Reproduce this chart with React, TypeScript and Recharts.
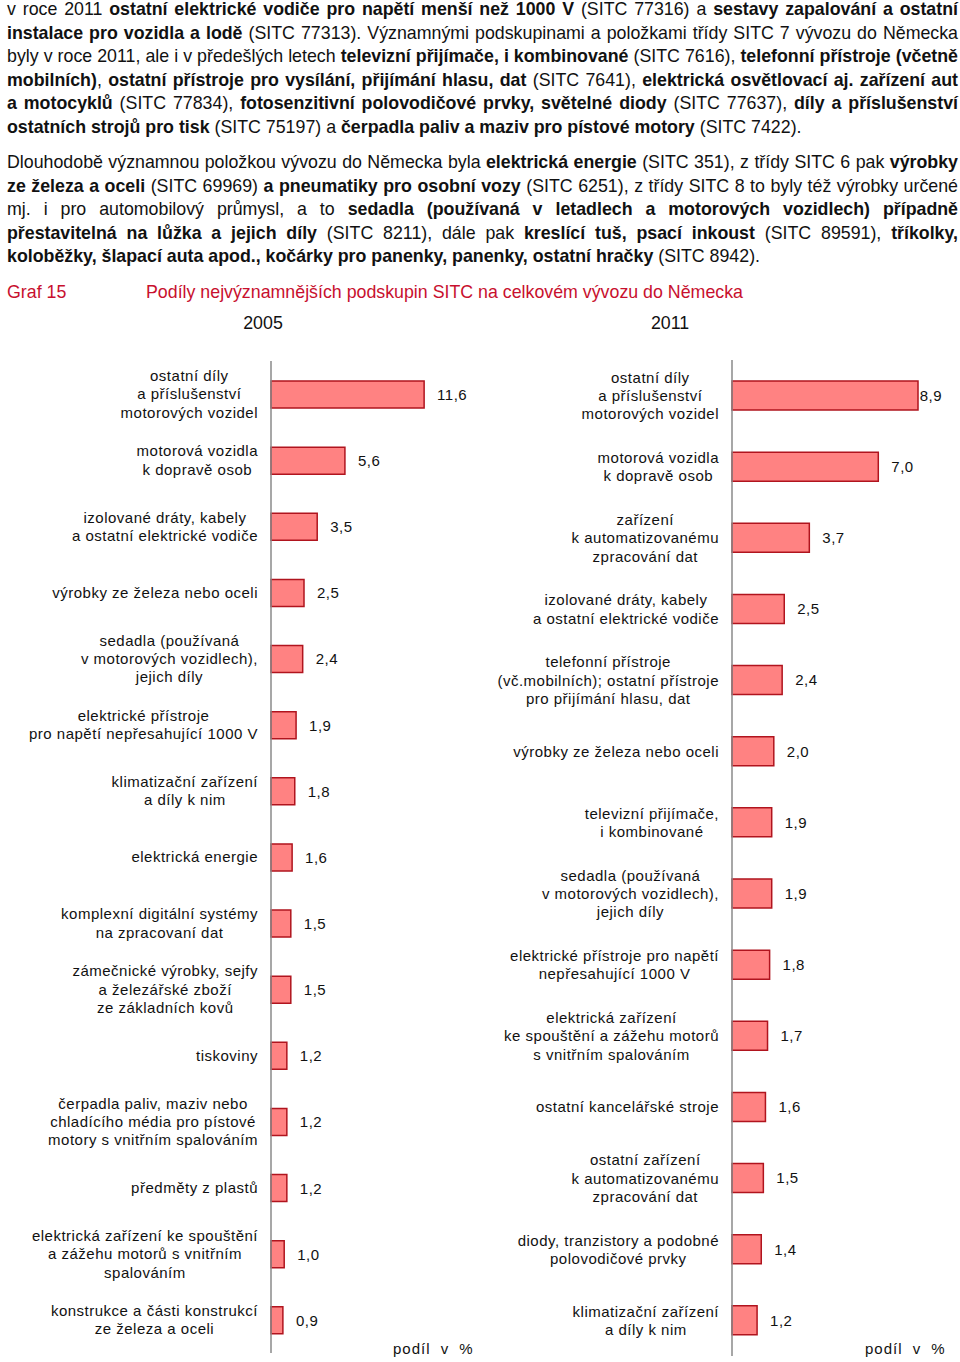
import React from "react";
import { BarChart, Bar, XAxis, YAxis, LabelList } from "recharts";

// categories and shares (%)
const categories2005 = [
  "ostatní díly\na příslušenství\nmotorových vozidel",
  "motorová vozidla\nk dopravě osob",
  "izolované dráty, kabely\na ostatní elektrické vodiče",
  "výrobky ze železa nebo oceli",
  "sedadla (používaná\nv motorových vozidlech),\njejich díly",
  "elektrické přístroje\npro napětí nepřesahující 1000 V",
  "klimatizační zařízení\na díly k nim",
  "elektrická energie",
  "komplexní digitální systémy\nna zpracovaní dat",
  "zámečnické výrobky, sejfy\na železářské zboží\nze základních kovů",
  "tiskoviny",
  "čerpadla paliv, maziv nebo\nchladícího média pro pístové\nmotory s vnitřním spalováním",
  "předměty z plastů",
  "elektrická zařízení ke spouštění\na zážehu motorů s vnitřním\nspalováním",
  "konstrukce a části konstrukcí\nze železa a oceli",
];
const values2005 = [11.6, 5.6, 3.5, 2.5, 2.4, 1.9, 1.8, 1.6, 1.5, 1.5, 1.2, 1.2, 1.2, 1.0, 0.9];

const categories2011 = [
  "ostatní díly\na příslušenství\nmotorových vozidel",
  "motorová vozidla\nk dopravě osob",
  "zařízení\nk automatizovanému\nzpracování dat",
  "izolované dráty, kabely\na ostatní elektrické vodiče",
  "telefonní přístroje\n(vč.mobilních); ostatní přístroje\npro přijímání hlasu, dat",
  "výrobky ze železa nebo oceli",
  "televizní přijímače,\ni kombinované",
  "sedadla (používaná\nv motorových vozidlech),\njejich díly",
  "elektrické přístroje pro napětí\nnepřesahující 1000 V",
  "elektrická zařízení\nke spouštění a zážehu motorů\ns vnitřním spalováním",
  "ostatní kancelářské stroje",
  "ostatní zařízení\nk automatizovanému\nzpracování dat",
  "diody, tranzistory a podobné\npolovodičové prvky",
  "klimatizační zařízení\na díly k nim",
];
const values2011 = [8.9, 7.0, 3.7, 2.5, 2.4, 2.0, 1.9, 1.9, 1.8, 1.7, 1.6, 1.5, 1.4, 1.2];

const yearLabels = ["2005", "2011"];
const axisTitle = "podíl v %";
const graphNo = "Graf 15";
const graphTitle = "Podíly nejvýznamnějších podskupin SITC na celkovém vývozu do Německa";

// text above the chart, one entry per printed line, [text, bold]
const para1: [string, boolean][][] = [
  [["v roce 2011 ", false], ["ostatní elektrické vodiče pro napětí menší než 1000 V", true], [" (SITC 77316) a ", false], ["sestavy zapalování a ostatní", true]],
  [["instalace pro vozidla a lodě", true], [" (SITC 77313). Významnými podskupinami a položkami třídy SITC 7 vývozu do Německa", false]],
  [["byly v roce 2011, ale i v předešlých letech ", false], ["televizní přijímače, i kombinované", true], [" (SITC 7616), ", false], ["telefonní přístroje (včetně", true]],
  [["mobilních)", true], [", ", false], ["ostatní přístroje pro vysílání, přijímání hlasu, dat", true], [" (SITC 7641), ", false], ["elektrická osvětlovací aj. zařízení aut", true]],
  [["a motocyklů", true], [" (SITC 77834), ", false], ["fotosenzitivní polovodičové prvky, světelné diody", true], [" (SITC 77637), ", false], ["díly a příslušenství", true]],
  [["ostatních strojů pro tisk", true], [" (SITC 75197) a ", false], ["čerpadla paliv a maziv pro pístové motory", true], [" (SITC 7422).", false]],
];
const para2: [string, boolean][][] = [
  [["Dlouhodobě významnou položkou vývozu do Německa byla ", false], ["elektrická energie", true], [" (SITC 351), z třídy SITC 6 pak ", false], ["výrobky", true]],
  [["ze železa a oceli", true], [" (SITC 69969) ", false], ["a pneumatiky pro osobní vozy", true], [" (SITC 6251), z třídy SITC 8 to byly též výrobky určené", false]],
  [["mj. i pro automobilový průmysl, a to ", false], ["sedadla (používaná v letadlech a motorových vozidlech) případně", true]],
  [["přestavitelná na lůžka a jejich díly", true], [" (SITC 8211), dále pak ", false], ["kreslící tuš, psací inkoust", true], [" (SITC 89591), ", false], ["tříkolky,", true]],
  [["koloběžky, šlapací auta apod., kočárky pro panenky, panenky, ostatní hračky", true], [" (SITC 8942).", false]],
];

const FONT = '"Liberation Sans", Arial, sans-serif';
const LABEL_SIZE = 15;
const LABEL_LS = 0.5;
const LABEL_LH = 18.3;
const RED = "#C8102E";

let ctx: CanvasRenderingContext2D | null = null;
const textWidth = (s: string) => {
  if (!ctx) ctx = document.createElement("canvas").getContext("2d");
  if (!ctx) return s.length * 7.5;
  ctx.font = `${LABEL_SIZE}px ${FONT}`;
  return ctx.measureText(s).width + LABEL_LS * s.length;
};

const fmt = (v: number) => v.toFixed(1).replace(".", ",");

const CategoryTick = (props: any) => {
  const { x, y, payload } = props;
  const lines = String(payload.value).split("\n");
  const w = Math.max(...lines.map(textWidth));
  const cx = x - w / 2;
  const y0 = y - ((lines.length - 1) * LABEL_LH) / 2;
  return (
    <text textAnchor="middle" fontSize={LABEL_SIZE} fontFamily={FONT} fill="#111" style={{ letterSpacing: LABEL_LS }}>
      {lines.map((l, i) => (
        <tspan key={i} x={cx} y={y0 + i * LABEL_LH} dy="0.36em">
          {l}
        </tspan>
      ))}
    </text>
  );
};

const makeValueLabel = (maxRight: number) => (props: any) => {
  const vb = props.viewBox || {};
  const x = props.x ?? vb.x;
  const y = props.y ?? vb.y;
  const width = props.width ?? vb.width;
  const height = props.height ?? vb.height;
  const txt = fmt(Number(props.value));
  const tx = Math.min(x + width + 13, maxRight - textWidth(txt));
  return (
    <text x={tx} y={y + height / 2} dy="0.36em" fontSize={LABEL_SIZE} fontFamily={FONT} fill="#111" style={{ letterSpacing: LABEL_LS }}>
      {txt}
    </text>
  );
};

type PanelProps = {
  categories: string[];
  values: number[];
  left: number;
  top: number;
  axisW: number;
  max: number;
  marginTop: number;
  marginRight: number;
  marginBottom: number;
  barSize: number;
};

const W = 480;
const H = 1022;

const Panel = ({ categories, values, left, top, axisW, max, marginTop, marginRight, marginBottom, barSize }: PanelProps) => {
  const data = categories.map((name, i) => ({ name, value: values[i] }));
  const plotRight = W - marginRight + 1;
  return (
    <div style={{ position: "absolute", left, top }}>
      <BarChart
        width={W}
        height={H}
        data={data}
        layout="vertical"
        margin={{ top: marginTop, right: marginRight, bottom: marginBottom, left: 0 }}
      >
        <XAxis type="number" domain={[0, max]} hide />
        <YAxis
          type="category"
          dataKey="name"
          width={axisW}
          interval={0}
          tickLine={false}
          tickSize={0}
          tickMargin={13}
          axisLine={{ stroke: "#8a8a8a", strokeWidth: 1.5 }}
          tick={<CategoryTick />}
        />
        <Bar dataKey="value" fill="#FF8282" stroke="#B0141E" strokeWidth={1.5} barSize={barSize} isAnimationActive={false}>
          <LabelList dataKey="value" content={makeValueLabel(plotRight)} />
        </Bar>
      </BarChart>
    </div>
  );
};

const Line = ({ segs, last }: { segs: [string, boolean][]; last?: boolean }) => (
  <div
    style={{
      whiteSpace: "nowrap",
      textAlign: last ? "left" : "justify",
      textAlignLast: last ? "left" : "justify",
      height: 23.5,
    }}
  >
    {segs.map(([t, b], i) => (
      <span key={i} style={{ fontWeight: b ? 700 : 400 }}>
        {t}
      </span>
    ))}
  </div>
);

const textStyle: React.CSSProperties = {
  position: "absolute",
  left: 7,
  width: 951,
  fontFamily: FONT,
  fontSize: 17.8,
  lineHeight: "23.5px",
  color: "#111",
};

export default function App() {
  return (
    <div style={{ position: "absolute", left: 0, top: 0, width: 960, height: 1362, background: "#fff", overflow: "hidden" }}>
      <div style={{ ...textStyle, top: -2 }}>
        {para1.map((segs, i) => (
          <Line key={i} segs={segs} last={i === para1.length - 1} />
        ))}
      </div>
      <div style={{ ...textStyle, top: 151 }}>
        {para2.map((segs, i) => (
          <Line key={i} segs={segs} last={i === para2.length - 1} />
        ))}
      </div>
      <div style={{ ...textStyle, top: 281, color: RED }}>{graphNo}</div>
      <div style={{ ...textStyle, left: 146, top: 281, color: RED }}>{graphTitle}</div>
      <div style={{ ...textStyle, left: 213, width: 100, top: 312, textAlign: "center" }}>{yearLabels[0]}</div>
      <div style={{ ...textStyle, left: 620, width: 100, top: 312, textAlign: "center" }}>{yearLabels[1]}</div>

      <Panel
        categories={categories2005}
        values={values2005}
        left={0}
        top={340}
        axisW={271}
        max={15}
        marginTop={21}
        marginRight={11}
        marginBottom={9}
        barSize={27}
      />
      <Panel
        categories={categories2011}
        values={values2011}
        left={480}
        top={340}
        axisW={252}
        max={10}
        marginTop={20}
        marginRight={19}
        marginBottom={6}
        barSize={29}
      />

      <div style={{ position: "absolute", left: 393, top: 1340, fontFamily: FONT, fontSize: 15, letterSpacing: 1, wordSpacing: 5, color: "#111" }}>
        {axisTitle}
      </div>
      <div style={{ position: "absolute", left: 865, top: 1340, fontFamily: FONT, fontSize: 15, letterSpacing: 1, wordSpacing: 5, color: "#111" }}>
        {axisTitle}
      </div>
    </div>
  );
}
